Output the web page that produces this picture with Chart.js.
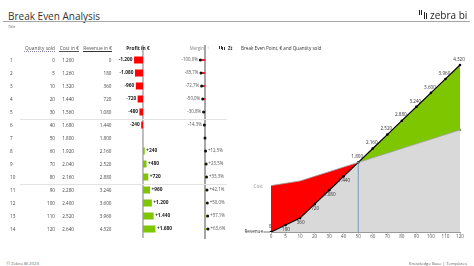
<!DOCTYPE html>
<html><head><meta charset="utf-8">
<script src="https://cdn.jsdelivr.net/npm/chart.js@4.4.1/dist/chart.umd.min.js"></script>
<style>
html,body{margin:0;padding:0;background:#fff;}
#root{position:relative;width:474px;height:266px;overflow:hidden;font-family:'Open Sans','Noto Sans',sans-serif;color:#333;}
.t{position:absolute;white-space:nowrap;line-height:10px;height:10px;}
.ln{position:absolute;}
canvas{position:absolute;}
</style></head><body>
<div id="root">
<canvas id="cProfit" width="90" height="196" style="left:100px;top:44px"></canvas>
<canvas id="cMargin" width="50" height="196" style="left:180px;top:44px"></canvas>
<canvas id="cBE" width="238" height="196" style="left:236px;top:52px"></canvas>
</div>
<script>
// ---- data ----
const rowNumbers = [1,2,3,4,5,6,7,8,9,10,11,12,13,14];
const quantity   = [0,5,10,20,30,40,50,60,70,80,90,100,110,120];
const cost       = [1200,1260,1320,1440,1560,1680,1800,1920,2040,2160,2280,2400,2520,2640];
const revenue    = [0,180,360,720,1080,1440,1800,2160,2520,2880,3240,3600,3960,4320];
const profit     = [-1200,-1080,-960,-720,-480,-240,0,240,480,720,960,1200,1440,1680];
const margin     = [-100.0,-85.7,-72.7,-50.0,-30.8,-14.3,0,12.5,23.5,33.3,42.1,50.0,57.1,63.6];
const xTickLabels = ['0','5','10','20','30','40','50','60','70','80','90','100','110','120'];

const FONT = "'Open Sans','Noto Sans',sans-serif";
const RED = '#ff0000', GREEN = '#7ec600', GRAY = '#d9d9d9';
const root = document.getElementById('root');

function fmt(v){ const s=Math.abs(Math.round(v)).toString().replace(/\B(?=(\d{3})+(?!\d))/g,'.'); return (v<0?'-':'')+s; }
function fmtPct(v){ return (v>0?'+':v<0?'-':'')+Math.abs(v).toFixed(1).replace('.',',')+'%'; }

function addText(x, y, str, o={}){
  const d=document.createElement('div'); d.className='t'; d.textContent=str;
  d.style.fontSize=(o.size||4.8)+'px'; d.style.top=(y-5)+'px';
  if(o.align==='right'){ d.style.right=(474-x)+'px'; d.style.textAlign='right'; }
  else if(o.align==='center'){ d.style.left=(x-50)+'px'; d.style.width='100px'; d.style.textAlign='center'; }
  else d.style.left=x+'px';
  if(o.color) d.style.color=o.color;
  if(o.weight) d.style.fontWeight=o.weight;
  if(o.family) d.style.fontFamily=o.family;
  root.appendChild(d); return d;
}
function addLine(x,y,w,h,c,style){
  const d=document.createElement('div'); d.className='ln';
  d.style.left=x+'px'; d.style.top=y+'px'; d.style.width=w+'px'; d.style.height=h+'px';
  if(style==='dot'){ d.style.borderTop=h+'px dotted '+c; d.style.height='0'; } else d.style.background=c;
  root.appendChild(d);
}

// ---- header ----
addText(8, 15.5, 'Break Even Analysis', {size:10, color:'#333'});
addLine(3, 21, 467, 1, '#a6a6a6');
addText(8, 26.5, 'Title', {size:3.8, color:'#666'});
// logo
addLine(419, 9.5, 1.3, 5, '#222'); addLine(421.2, 9.5, 1.3, 5, '#222'); addLine(423.6, 12, 1.3, 6.5, '#222'); addLine(426, 13, 1.3, 5.5, '#222');
addText(430, 14.5, 'zebra bi', {size:10, color:'#222'});

// table headers
addText(55, 47.5, 'Quantity sold', {align:'right', color:'#555'});
addLine(24, 50.5, 31, 1, '#8a8aa8', 'dot');
addText(79, 47.5, 'Cost in €', {align:'right', color:'#555'});
addLine(58.5, 50.5, 20.5, 0.8, '#555');
addText(112, 47.5, 'Revenue in €', {align:'right', color:'#555'});
addLine(83, 50.5, 29, 1.4, '#333');
addText(138, 47.5, 'Profit in €', {align:'center', weight:'bold', color:'#222'});
addText(204, 47.5, 'Margin', {align:'right', color:'#888', size:4.4});
addText(207.5, 47.3, '‹', {color:'#aaa', size:5});
addLine(219, 45.5, 1, 3, '#333'); addLine(220.6, 45.5, 1, 3, '#333'); addLine(222.4, 46.5, 1, 3.5, '#333'); addLine(224.2, 47, 1, 3, '#333');
addText(228, 47.5, 'Zt', {weight:'bold', color:'#333', size:4.4});
addText(241, 47.5, 'Break Even Point, € and Quantity sold', {color:'#333', size:4.6});

// table rows
const rowY = i => 60 + 13*i;
rowNumbers.forEach((n,i)=>{
  const y=rowY(i);
  addText(10, y, String(n), {color:'#444', size:4.6});
  addText(55, y, fmt(quantity[i]), {align:'right', color:'#444', size:4.6});
  addText(74, y, fmt(cost[i]), {align:'right', color:'#444', size:4.6});
  addText(111.5, y, fmt(revenue[i]), {align:'right', color:'#444', size:4.6});
});
addLine(20, 119, 207, 0.8, '#e3e3e3');
addLine(20, 183.5, 207, 0.8, '#e3e3e3');

// footer
addText(6.5, 262.5, '© Zebra BI 2023', {size:4.3, color:'#666'});
addText(467, 262.5, 'Knowledge Base  |  Templates', {align:'right', size:4.3, color:'#666'});

Chart.defaults.font.family = FONT;

const baseOpts = {
  responsive:false, animation:false, events:[], devicePixelRatio:1,
  plugins:{legend:{display:false}, tooltip:{enabled:false}},
};

// ---- Profit bars ----
const profitPlugin = {
  id:'profitPlugin',
  beforeDatasetsDraw(chart){
    const c=chart.ctx, x=chart.scales.x.getPixelForValue(0);
    c.save(); c.strokeStyle='#9a9a9a'; c.lineWidth=1.3;
    c.beginPath(); c.moveTo(x,1); c.lineTo(x,chart.height-2); c.stroke(); c.restore();
  },
  afterDatasetsDraw(chart){
    const c=chart.ctx, meta=chart.getDatasetMeta(0);
    c.save(); c.font='bold 4.8px '+FONT; c.fillStyle='#222'; c.textBaseline='middle';
    meta.data.forEach((el,i)=>{
      const v=profit[i]; if(v===0) return;
      if(v<0){ c.textAlign='right'; c.fillText(fmt(v), el.x-1.5, el.y); }
      else { c.textAlign='left'; c.fillText('+'+fmt(v), el.x+1.5, el.y); }
    });
    c.restore();
  }
};
new Chart(document.getElementById('cProfit'), {
  type:'bar',
  data:{labels:rowNumbers, datasets:[{data:profit, backgroundColor:profit.map(v=>v<0?RED:GREEN), borderWidth:0, barPercentage:0.6, categoryPercentage:0.9}]},
  options:Object.assign({}, baseOpts, {
    indexAxis:'y',
    layout:{padding:{top:9.5,bottom:4.5,left:0,right:0}},
    scales:{x:{display:false,min:-5800,max:6350}, y:{display:false}}
  }),
  plugins:[profitPlugin]
});

// ---- Margin lollipops ----
const marginPlugin = {
  id:'marginPlugin',
  beforeDatasetsDraw(chart){
    const c=chart.ctx, x=chart.scales.x.getPixelForValue(0);
    c.save(); c.strokeStyle='#a6a6a6'; c.lineWidth=2;
    c.beginPath(); c.moveTo(x,1); c.lineTo(x,chart.height-1); c.stroke(); c.restore();
  },
  afterDatasetsDraw(chart){
    const c=chart.ctx, meta=chart.getDatasetMeta(0);
    c.save(); c.font='4.4px '+FONT; c.fillStyle='#555'; c.textBaseline='middle';
    meta.data.forEach((el,i)=>{
      const v=margin[i]; if(v===0) return;
      if(v<0){ c.textAlign='right'; c.fillText(fmtPct(v), el.x-2.5, el.y); }
      else { c.textAlign='left'; c.fillText(fmtPct(v), el.x+2.5, el.y); }
    });
    c.restore();
  }
};
new Chart(document.getElementById('cMargin'), {
  type:'bar',
  data:{labels:rowNumbers, datasets:[
    {type:'line', indexAxis:'y', data:margin, showLine:false, pointRadius:1.5, pointBackgroundColor:'#111', pointBorderWidth:0},
    {type:'bar', indexAxis:'y', data:margin, backgroundColor:margin.map(v=>v<0?'#e8202a':'#8fc41a'), borderWidth:0, barThickness:1.4}
  ]},
  options:Object.assign({}, baseOpts, {
    indexAxis:'y',
    layout:{padding:{top:9.5,bottom:4.5,left:0,right:0}},
    scales:{x:{display:false,min:-450,max:450}, y:{display:false}}
  }),
  plugins:[marginPlugin]
});

// ---- Break-even chart ----
const bePlugin = {
  id:'bePlugin',
  afterDatasetsDraw(chart){
    const c=chart.ctx, xs=chart.scales.x, ys=chart.scales.y, ca=chart.chartArea;
    const be = revenue.findIndex((v,i)=>v>=cost[i]);
    c.save();
    const bx=xs.getPixelForValue(be), by=ys.getPixelForValue(revenue[be]);
    c.strokeStyle='#7596b8'; c.lineWidth=1;
    c.beginPath(); c.moveTo(bx,ca.bottom); c.lineTo(bx,by); c.stroke();
    const meta=chart.getDatasetMeta(1);
    c.font='4.6px '+FONT; c.fillStyle='#333'; c.textAlign='center'; c.textBaseline='middle';
    meta.data.forEach((el,i)=>{
      const t=fmt(revenue[i]);
      if(i===0) c.fillText(t, el.x-1, el.y-5);
      else if(i<be) c.fillText(t, el.x+0.5, el.y+4.5);
      else c.fillText(t, el.x-1, el.y-5.5);
    });
    c.textAlign='right';
    c.fillStyle='#999'; c.fillText('Cost', ca.left-8, ys.getPixelForValue(cost[0])+1);
    c.fillStyle='#333'; c.fillText('Revenue', ca.left-8, ca.bottom);
    c.strokeStyle='#555'; c.lineWidth=0.8;
    c.beginPath(); c.moveTo(ca.left-7.5, ca.bottom); c.lineTo(ca.left-1, ca.bottom); c.stroke();
    c.restore();
  }
};
new Chart(document.getElementById('cBE'), {
  type:'line',
  data:{labels:xTickLabels, datasets:[
    {label:'Cost', data:cost, borderColor:'#a0a0a0', borderWidth:0.8, tension:0,
     pointRadius:ctx=>ctx.dataIndex===cost.length-1?1.4:0, pointBackgroundColor:'#9a9a9a', pointBorderWidth:0,
     fill:{target:1, above:RED, below:GREEN}},
    {label:'Revenue', data:revenue, borderColor:'#000', borderWidth:1.2, tension:0,
     pointRadius:1.3, pointBackgroundColor:'#000', pointBorderWidth:0,
     fill:{target:'origin', above:GRAY}}
  ]},
  options:Object.assign({}, baseOpts, {
    layout:{padding:{top:8,bottom:4,left:35,right:14}},
    plugins:{legend:{display:false}, tooltip:{enabled:false}, filler:{drawTime:'beforeDatasetsDraw', propagate:false}},
    scales:{
      x:{type:'category', offset:false, afterFit(s){ s.height=12; },
         border:{display:true, color:'#999', width:1},
         grid:{display:true, drawOnChartArea:false, drawTicks:true, tickLength:1.5, color:'#999'},
         ticks:{font:{size:4.6, family:FONT, lineHeight:1}, color:'#555', padding:1, maxRotation:0, autoSkip:false}},
      y:{display:false, min:0, max:4450}
    }
  }),
  plugins:[bePlugin]
});
</script>
</body></html>
